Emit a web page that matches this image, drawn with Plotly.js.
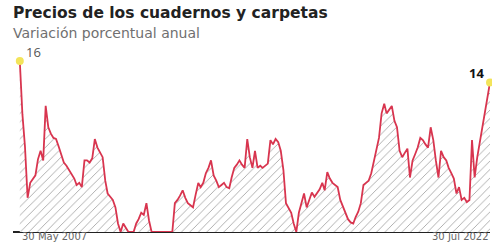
<!DOCTYPE html>
<html>
<head>
<meta charset="utf-8">
<script src="https://cdn.plot.ly/plotly-3.0.1.min.js"></script>
<style>html,body{margin:0;padding:0;background:#fff;}#chart{width:492px;height:243px;}</style>
</head>
<body>
<div id="chart"></div>
<script>
var startYear = 2007, startMonth = 5; // May 2007
var values = [
 16, 11.0, 8.0, 3.2, 4.6, 5.0, 5.3, 6.8, 7.6, 6.7, 11.8, 9.8,
 9.2, 8.8, 8.7, 8.0, 7.3, 6.5, 6.2, 5.8, 5.5, 5.0, 4.4, 4.6,
 4.2, 6.7, 6.7, 6.5, 6.9, 8.7, 7.9, 7.5, 7.0, 4.8, 3.6, 3.3,
 3.0, 2.3, 0.8, 0, 0.8, 0.4, 0, 0, 0, 0.8, 1.2, 1.8,
 1.6, 2.7, 1.1, 0, 0, 0, 0, 0, 0, 0, 0, 0,
 2.7, 3.0, 3.4, 3.9, 3.2, 2.7, 2.5, 2.3, 3.5, 4.6, 4.2, 4.6,
 5.5, 6.0, 6.7, 5.3, 4.8, 4.2, 4.4, 4.6, 4.2, 4.1, 5.1, 6.0,
 6.3, 6.7, 6.3, 6.0, 8.7, 7.0, 6.0, 7.6, 6.0, 6.2, 6.0, 6.2,
 6.4, 8.6, 8.2, 8.7, 8.4, 7.6, 5.8, 2.7, 2.2, 1.8, 0.8, 0,
 1.8, 2.8, 3.6, 2.3, 3.0, 3.7, 3.3, 3.6, 4.0, 4.6, 3.9, 5.6,
 5.0, 4.6, 4.4, 4.2, 3.0, 2.4, 1.8, 1.2, 0.9, 0.8, 1.4, 1.9,
 2.7, 4.4, 4.6, 4.8, 5.5, 6.7, 7.8, 8.8, 11.1, 12.0, 11.1, 11.4,
 11.8, 10.4, 9.8, 7.6, 7.0, 7.4, 7.8, 5.1, 6.7, 7.3, 7.9, 8.8,
 8.6, 8.2, 7.9, 9.8, 8.6, 6.7, 5.1, 7.6, 7.0, 6.7, 6.0, 5.5,
 5.0, 3.6, 4.2, 3.0, 3.2, 2.8, 3.0, 8.6, 5.1, 7.0, 8.3, 9.8,
 11.0, 12.3, 14
];
var startLabel = "30 May 2007";
var endLabel = "30 Jul 2022";
var titleText = "Precios de los cuadernos y carpetas";
var subtitleText = "Variación porcentual anual";

var dates = [];
for (var i = 0; i < values.length; i++) {
  var m = startMonth - 1 + i;
  var y = startYear + Math.floor(m / 12);
  var mm = (m % 12) + 1;
  dates.push(y + "-" + (mm < 10 ? "0" + mm : mm) + "-01");
}
var n = values.length;

var traces = [
  {
    x: dates, y: values, type: "scatter", mode: "lines",
    line: {color: "#d8354f", width: 1.8, shape: "linear"},
    fill: "tozeroy", fillcolor: "rgba(255,255,255,0)",
    fillpattern: {shape: "/", fgcolor: "#a8a8a8", bgcolor: "#ffffff", size: 6, solidity: 0.15},
    hoverinfo: "skip", cliponaxis: false
  },
  {
    x: [dates[0], dates[n - 1]], y: [values[0], values[n - 1]],
    type: "scatter", mode: "markers",
    marker: {color: "#f3e45a", size: 8},
    cliponaxis: false, hoverinfo: "skip"
  }
];

var layout = {
  width: 492, height: 243,
  margin: {l: 13, r: 2, t: 61, b: 11, pad: 0},
  paper_bgcolor: "#ffffff", plot_bgcolor: "#ffffff",
  showlegend: false,
  xaxis: {
    type: "date",
    range: ["2007-02-10", dates[n - 1]],
    showgrid: false, zeroline: false, showticklabels: false, ticks: "",
    showline: false
  },
  yaxis: {
    range: [0, 16], showgrid: false, showticklabels: false, ticks: "",
    zeroline: true, zerolinecolor: "#222", zerolinewidth: 1.5, showline: false
  },
  annotations: [
    {xref: "paper", yref: "paper", x: -0.002, y: 1, yshift: 58, xanchor: "left", yanchor: "top",
     text: "<b>" + titleText + "</b>", showarrow: false, borderpad: 0,
     font: {family: "DejaVu Sans, sans-serif", size: 15.5, color: "#222222"}},
    {xref: "paper", yref: "paper", x: -0.002, y: 1, yshift: 37, xanchor: "left", yanchor: "top",
     text: subtitleText, showarrow: false, borderpad: 0,
     font: {family: "DejaVu Sans, sans-serif", size: 14, color: "#707070"}},
    {x: dates[0], y: values[0], xref: "x", yref: "y", xanchor: "left", yanchor: "bottom",
     xshift: 4, yshift: -2, text: String(values[0]), showarrow: false,
     font: {family: "Open Sans, sans-serif", size: 13, color: "#555555"}},
    {x: dates[n - 1], y: values[n - 1], xref: "x", yref: "y", xanchor: "right", yanchor: "bottom",
     xshift: -4, yshift: -2, text: "<b>" + values[n - 1] + "</b>", showarrow: false,
     font: {family: "Open Sans, sans-serif", size: 13, color: "#111111"}},
    {x: dates[0], y: 0, xref: "x", yref: "y", xanchor: "left", yanchor: "bottom",
     xshift: 1, yshift: -11, text: startLabel, showarrow: false, borderpad: 0,
     font: {family: "DejaVu Sans, sans-serif", size: 10, color: "#666666"}},
    {x: dates[n - 1], y: 0, xref: "x", yref: "y", xanchor: "right", yanchor: "bottom",
     xshift: 0, yshift: -11, text: endLabel, showarrow: false, borderpad: 0,
     font: {family: "DejaVu Sans, sans-serif", size: 10, color: "#666666"}}
  ]
};

Plotly.newPlot("chart", traces, layout, {displayModeBar: false, staticPlot: true});
</script>
</body>
</html>
